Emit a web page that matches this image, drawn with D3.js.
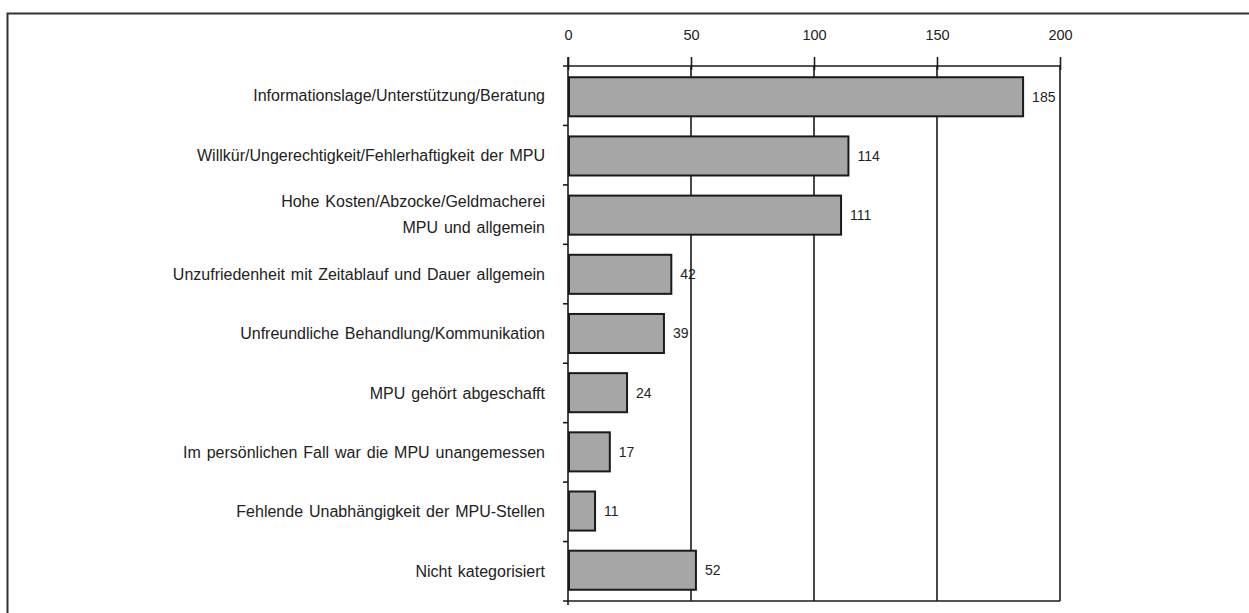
<!DOCTYPE html>
<html><head><meta charset="utf-8">
<script src="https://cdn.jsdelivr.net/npm/d3@7"></script>
<style>body{margin:0;background:#fff}svg{display:block}text{font-family:"Liberation Sans",Arial,sans-serif}</style>
</head><body>
<svg id="c" width="1249" height="613"></svg>
<script>
const categories = [
  ["Informationslage/Unterstützung/Beratung"],
  ["Willkür/Ungerechtigkeit/Fehlerhaftigkeit der MPU"],
  ["Hohe Kosten/Abzocke/Geldmacherei", "MPU und allgemein"],
  ["Unzufriedenheit mit Zeitablauf und Dauer allgemein"],
  ["Unfreundliche Behandlung/Kommunikation"],
  ["MPU gehört abgeschafft"],
  ["Im persönlichen Fall war die MPU unangemessen"],
  ["Fehlende Unabhängigkeit der MPU-Stellen"],
  ["Nicht kategorisiert"]
];
const values = [185, 114, 111, 42, 39, 24, 17, 11, 52];
const tickValues = [0, 50, 100, 150, 200];

const svg = d3.select("#c");
const ink = "#1a1a1a";
// outer frame
svg.append("path").attr("d","M7.5,613 V13.5 H1249").attr("fill","none").attr("stroke","#333").attr("stroke-width",2);

const x = d3.scaleLinear().domain([0,200]).range([568,1060]);
const y = d3.scaleBand().domain(d3.range(categories.length)).range([66,601]).paddingInner(0.34).paddingOuter(0.19);
const yb = d3.scaleBand().domain(d3.range(categories.length)).range([66,601]);

// gridlines
svg.append("g").selectAll("line").data(tickValues.slice(1)).join("line")
  .attr("x1",d=>x(d)).attr("x2",d=>x(d)).attr("y1",66).attr("y2",601)
  .attr("stroke",ink).attr("stroke-width",1.6);

// top axis
const ax = svg.append("g").attr("transform","translate(0,66)")
  .call(d3.axisTop(x).tickValues(tickValues).tickSize(9).tickPadding(17));
ax.select(".domain").remove();
ax.selectAll(".tick line").attr("stroke",ink).attr("stroke-width",1.6).attr("y2",-9).attr("y1",4);
ax.selectAll(".tick text").attr("font-size",14.5).attr("fill","#222").attr("font-family","Liberation Sans, Arial, sans-serif");
svg.append("line").attr("x1",563).attr("x2",1060).attr("y1",66).attr("y2",66).attr("stroke",ink).attr("stroke-width",1.6);
svg.append("line").attr("x1",563).attr("x2",1060).attr("y1",601).attr("y2",601).attr("stroke",ink).attr("stroke-width",1.6);

// left axis line & category separator ticks
svg.append("line").attr("x1",568).attr("x2",568).attr("y1",57).attr("y2",605).attr("stroke",ink).attr("stroke-width",1.6);
svg.append("g").selectAll("line").data(d3.range(1,categories.length)).join("line")
  .attr("x1",563).attr("x2",568).attr("y1",i=>yb(i)).attr("y2",i=>yb(i))
  .attr("stroke",ink).attr("stroke-width",1.6);

// bars
svg.append("g").selectAll("rect").data(values).join("rect")
  .attr("x",x(0)+1).attr("y",(d,i)=>y(i))
  .attr("width",d=>x(d)-x(0)-1).attr("height",y.bandwidth())
  .attr("fill","#a6a6a6").attr("stroke",ink).attr("stroke-width",2);

// value labels
svg.append("g").selectAll("text").data(values).join("text")
  .attr("x",d=>x(d)+9).attr("y",(d,i)=>y(i)+y.bandwidth()/2)
  .attr("dy","0.35em").attr("font-size",14).attr("fill","#222").text(d=>d);

// category labels
const fs = 16;
const lab = svg.append("g").selectAll("text").data(categories).join("text")
  .attr("x",545).attr("text-anchor","end").attr("font-size",fs).attr("fill","#222")
  .style("word-spacing","1.5px")
  .attr("y",(d,i)=>yb(i)+yb.bandwidth()/2);
lab.each(function(lines){
  const t = d3.select(this);
  const n = lines.length;
  lines.forEach((l,k)=>{
    t.append("tspan").attr("x",545).attr("dy", k===0 ? ((0.35 - (n-1)*0.8)+"em") : "1.6em").text(l);
  });
});
</script>
</body></html>
